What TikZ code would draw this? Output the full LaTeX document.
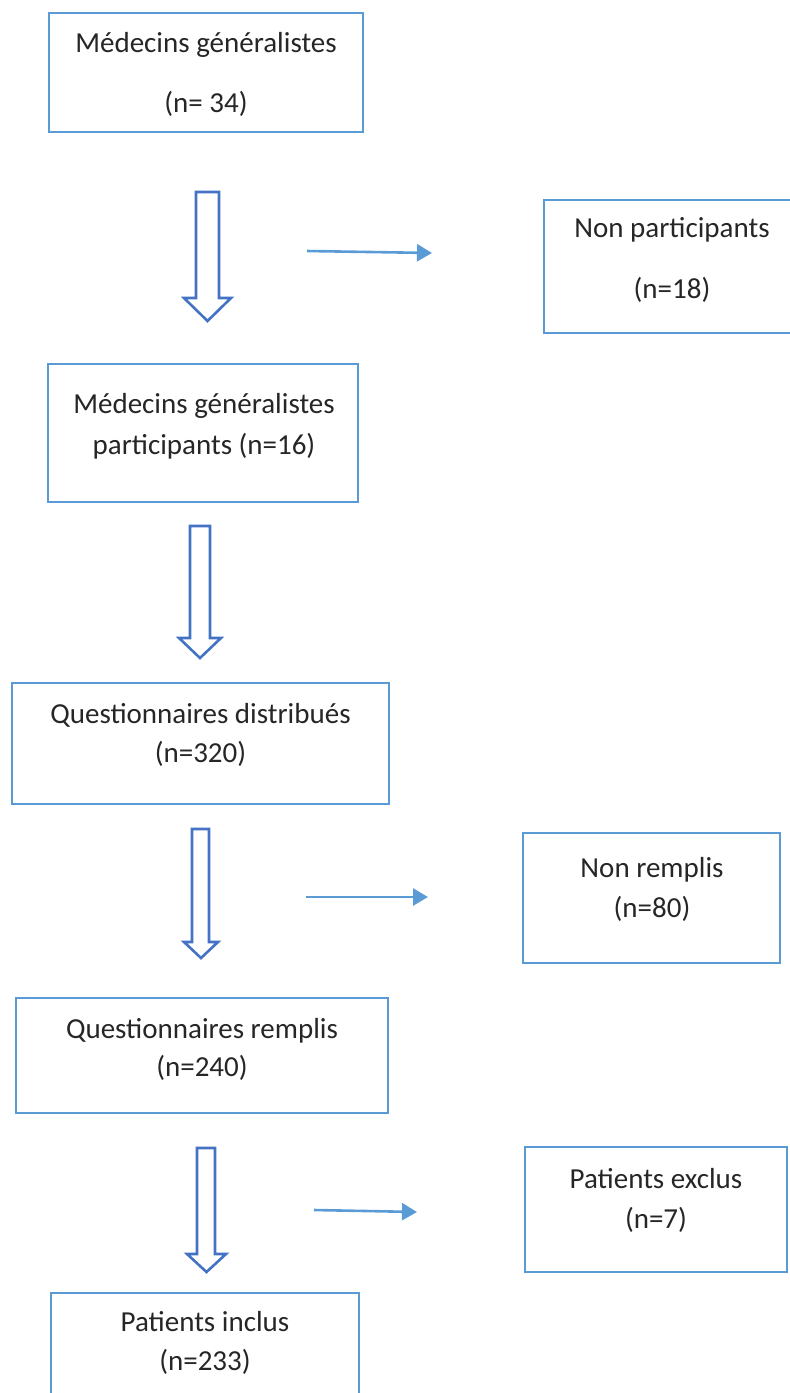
\documentclass[tikz,border=0pt]{standalone}
\usepackage{fontspec}
\setmainfont{Carlito}
\usetikzlibrary{arrows.meta}
\definecolor{boxblue}{HTML}{5B9BD5}
\definecolor{arrowblue}{HTML}{4472C4}
\definecolor{txt}{HTML}{262626}
\tikzset{
  flowbox/.style={draw=boxblue, line width=2.2pt, fill=none, inner sep=0pt, rectangle},
  lbl/.style={anchor=base, inner sep=0pt, text=txt, font=\fontsize{29}{35}\selectfont},
  thinarrow/.style={draw=boxblue, line width=2.6pt, -{Triangle[length=15pt,width=17pt]}},
  blockarrow/.style={draw=arrowblue, line width=2.6pt, fill=white, line join=miter}
}
% #1 name, #2 shaft left, #3 shaft right, #4 top, #5 head y, #6 head left, #7 head right, #8 tip y
\newcommand\downblock[8]{%
  \coordinate (#1top) at ({(#2+#3)/2},#4);
  \coordinate (#1tip) at ({(#6+#7)/2},#8);
  \draw[blockarrow] (#2,#4) -- (#3,#4) -- (#3,#5) -- (#7,#5) -- (#1tip) -- (#6,#5) -- (#2,#5) -- cycle;
}
\begin{document}
\begin{tikzpicture}[x=1pt,y=-1pt]
\useasboundingbox (0,0) rectangle (790,1393);

% boxes
\node[flowbox, minimum width=314pt, minimum height=119pt] (b1) at (206,72.5) {};
\node[flowbox, minimum width=256pt, minimum height=133pt] (b2) at (672,266.5) {};
\node[flowbox, minimum width=310pt, minimum height=138pt] (b3) at (203,433) {};
\node[flowbox, minimum width=377pt, minimum height=121pt] (b4) at (200.5,743.5) {};
\node[flowbox, minimum width=257pt, minimum height=130pt] (b5) at (651.5,898) {};
\node[flowbox, minimum width=372pt, minimum height=115pt] (b6) at (202,1055.5) {};
\node[flowbox, minimum width=262pt, minimum height=125pt] (b7) at (656,1209.5) {};
\node[flowbox, minimum width=308pt, minimum height=117pt] (b8) at (205,1351.5) {};

% texts
\node[lbl] (b1l1) at (206,52) {Médecins généralistes};
\node[lbl] (b1l2) at (206,112) {(n= 34)};
\node[lbl] (b2l1) at (672,237) {Non participants};
\node[lbl] (b2l2) at (672,298) {(n=18)};
\node[lbl] (b3l1) at (204,413) {Médecins généralistes};
\node[lbl] (b3l2) at (204,454) {participants (n=16)};
\node[lbl] (b4l1) at (200.5,723) {Questionnaires distribués};
\node[lbl] (b4l2) at (200.5,762) {(n=320)};
\node[lbl] (b5l1) at (652,877) {Non remplis};
\node[lbl] (b5l2) at (652,917) {(n=80)};
\node[lbl] (b6l1) at (202,1038) {Questionnaires remplis};
\node[lbl] (b6l2) at (202,1076) {(n=240)};
\node[lbl] (b7l1) at (656,1188) {Patients exclus};
\node[lbl] (b7l2) at (656,1228) {(n=7)};
\node[lbl] (b8l1) at (205,1331) {Patients inclus};
\node[lbl] (b8l2) at (205,1370) {(n=233)};

% block arrows
\downblock{a1}{196}{219}{192}{298}{184}{231}{321}
\downblock{a2}{190}{210}{526}{638}{179}{221}{658}
\downblock{a3}{192}{209}{829}{942}{184}{218}{958}
\downblock{a4}{197}{215}{1148}{1254}{187}{226}{1272}

% thin arrows
\coordinate (t1s) at (307,251);
\coordinate (t1e) at (432,253);
\coordinate (t2s) at (306,897);
\coordinate (t2e) at (428,897);
\coordinate (t3s) at (314,1210);
\coordinate (t3e) at (417,1212);
\draw[thinarrow] (t1s) -- (t1e);
\draw[thinarrow] (t2s) -- (t2e);
\draw[thinarrow] (t3s) -- (t3e);
\end{tikzpicture}
\end{document}
